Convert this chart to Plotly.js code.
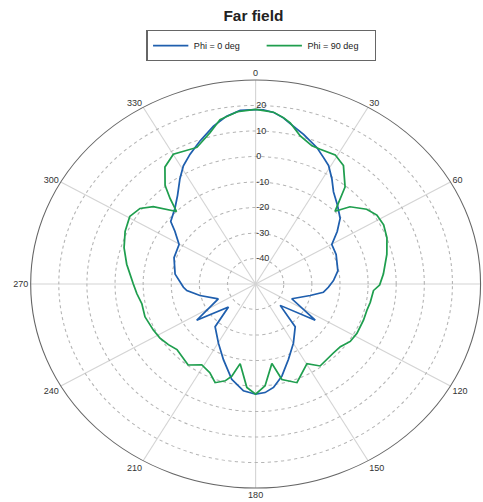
<!DOCTYPE html>
<html>
<head>
<meta charset="utf-8">
<script src="https://cdn.plot.ly/plotly-3.0.1.min.js"></script>
<style>
html,body{margin:0;padding:0;background:#fff;}
#wrap{width:483px;height:502px;overflow:hidden;position:relative;}
#chart{width:438px;height:502px;transform:scaleX(1.1027);transform-origin:0 0;}
</style>
</head>
<body>
<div id="wrap"><div id="chart"></div></div>
<script>
// Phi = 0 deg cut (theta in degrees, gain in dB)
var phi0Theta = [0, 2.3, 5.4, 8.6, 12.3, 16.2, 22.1, 25.9, 29.2, 33.3, 37.5, 43.2, 49.4, 54.6, 60.3, 67.9, 80.0, 87.3, 92.8, 97.6, 103.0, 114.2, 123.8, 133.8, 140.0, 149.9, 158.5, 165.5, 171.1, 175.5, 180,
  185.9, 192.8, 201.1, 209.7, 220.7, 227.0, 235.9, 246.3, 257.2, 264.0, 267.2, 277.7, 289.6, 299.6, 305.8, 309.1, 316.0, 321.4, 326.9, 331.0, 335.4, 340.6, 346.4, 351.1, 355.4, 360];
var phi0R = [18.4, 18.4, 17.6, 15.9, 13.3, 11.1, 7.8, 5.2, 3.2, -0.6, -4.5, -7.5, -10.4, -14.4, -18.8, -19.1, -20.3, -22.3, -24.1, -25.7, -30.1, -35.9, -24.5, -37.9, -28.1, -23.2, -18.2, -12.7, -8.9, -7.3, -6.8,
  -7.9, -11.7, -18.2, -23.3, -27.9, -36.8, -24.7, -35.5, -29.7, -25.4, -24.3, -21.1, -19.2, -18.7, -14.6, -11.1, -8.7, -5.5, -0.7, 3.0, 6.0, 9.5, 13.7, 16.6, 18.3, 18.4];

// Phi = 90 deg cut
var phi90Theta = [0, 5.4, 8.6, 11.0, 15.3, 20.3, 23.5, 29.2, 33.9, 39.9, 41.9, 44.7, 47.9, 53.4, 57.9, 63.0, 68.8, 76.0, 85.1, 90.5, 93.5, 99.9, 104.6, 110.3, 118.2, 123.8, 129.2, 134.4, 144.5, 149.7, 159.2, 166.0, 169.5, 175.2, 180,
  184.4, 190.0, 193.2, 195.9, 200.4, 205.1, 211.2, 217.1, 227.4, 232.5, 238.0, 243.6, 251.9, 259.2, 264.8, 270, 279.6, 286.9, 294.0, 300.6, 305.8, 309.8, 315.3, 317.8, 320.2, 324.9, 330.1, 338.7, 344.7, 348.9, 354.5, 360];
var phi90R = [18.5, 17.7, 16.0, 14.4, 10.2, 7.8, 7.6, 8.0, 6.0, -0.4, -4.9, -9.8, -4.8, -0.8, 0.9, 1.1, 0.1, -1.9, -4.4, -5.9, -8.0, -8.6, -9.1, -9.1, -9.1, -9.5, -11.1, -11.3, -10.5, -13.8, -8.6, -11.4, -18.3, -9.9, -6.8,
  -9.3, -18.3, -12.9, -10.5, -8.7, -11.6, -13.0, -10.2, -12.0, -10.9, -9.9, -9.4, -8.6, -8.8, -7.6, -6.5, -3.5, -1.1, 0.8, 2.0, 0.7, -2.6, -10.0, -4.7, 0.3, 6.1, 8.7, 7.5, 11.5, 15.7, 17.9, 18.5];

var angTickVals = [0, 30, 60, 90, 120, 150, 180, 210, 240, 270, 300, 330];
var angTickText = ['0', '30', '60', '', '120', '150', '180', '210', '240', '270', '300', '330'];
var radTickVals = [-40, -30, -20, -10, 0, 10, 20];
var radTickText = ['-40', '-30', '-20', '-10', '0', '10', '20'];

var FONT = 'Liberation Sans, Arial, sans-serif';

var traces = [
  {type: 'scatterpolar', mode: 'lines', name: 'Phi = 0 deg', theta: phi0Theta, r: phi0R,
   line: {color: '#1f5fae', width: 1.6}},
  {type: 'scatterpolar', mode: 'lines', name: 'Phi = 90 deg', theta: phi90Theta, r: phi90R,
   line: {color: '#1f9e4e', width: 1.6}}
];

var layout = {
  width: 438, height: 502,
  margin: {l: 0, r: 0, t: 0, b: 0},
  paper_bgcolor: '#fff',
  font: {family: FONT, size: 8.2, color: '#333'},
  title: {text: '<b>Far field</b>', x: 0.5247, xanchor: 'center', y: 0.968, yanchor: 'middle',
          font: {family: FONT, size: 14, color: '#222'}},
  showlegend: true,
  legend: {orientation: 'h', x: 0.3032, xanchor: 'left', y: 0.94, yanchor: 'top',
           itemwidth: 32, entrywidth: 56, entrywidthmode: 'pixels',
           bordercolor: '#666', borderwidth: 1, bgcolor: '#fff',
           font: {family: FONT, size: 8.2, color: '#222'}},
  polar: {
    domain: {x: [0.0635, 0.995], y: [0.0279, 0.8406]},
    bgcolor: '#fff',
    angularaxis: {
      rotation: 90, direction: 'clockwise',
      tickmode: 'array', tickvals: angTickVals, ticktext: angTickText,
      ticks: '', showline: true, linecolor: '#666', linewidth: 1,
      showgrid: true, gridcolor: '#d4d4d4', gridwidth: 1,
      tickfont: {family: FONT, size: 8.2, color: '#333'}
    },
    radialaxis: {
      range: [-50, 30], angle: 90, side: 'clockwise', tickangle: 90,
      tickmode: 'array', tickvals: radTickVals, ticktext: radTickText,
      ticks: '', showline: false,
      showgrid: true, gridcolor: '#b5b5b5', gridwidth: 1, griddash: '3px,3px',
      tickfont: {family: FONT, size: 8.2, color: '#333'}
    }
  }
};

Plotly.newPlot('chart', traces, layout, {displayModeBar: false, staticPlot: true});
</script>
</body>
</html>
